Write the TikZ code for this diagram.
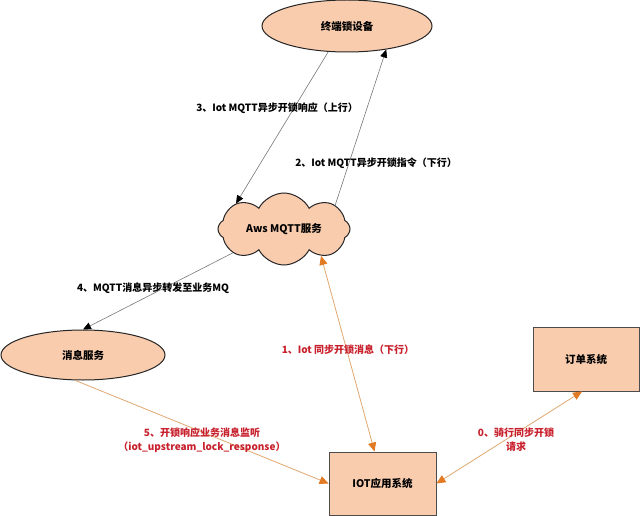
\documentclass[tikz,border=0pt]{standalone}
\usepackage{fontspec}
\setmainfont{Noto Sans CJK SC}
\usetikzlibrary{shapes.geometric,shapes.symbols,arrows.meta}
\definecolor{peach}{RGB}{249,204,174}
\definecolor{tipor}{RGB}{226,122,36}
\definecolor{lineor}{RGB}{224,168,112}
\definecolor{redtxt}{RGB}{200,32,44}
\definecolor{lgray}{RGB}{120,120,120}
\begin{document}
\begin{tikzpicture}[x=1pt,y=-1pt,
  nodefont/.style={font=\fontsize{10.5}{12}\selectfont\bfseries},
  ell/.style={ellipse, draw=black!85, line width=1pt, fill=peach, inner sep=0pt, nodefont},
  boxn/.style={rectangle, draw=black!70, line width=0.9pt, fill=peach, inner sep=0pt, nodefont},
  cloudn/.style={cloud, cloud puffs=8, cloud puff arc=125, cloud ignores aspect, draw=black!85, line width=1pt, fill=peach, inner sep=0pt, nodefont},
  blk/.style={draw=lgray, line width=0.6pt, -{Triangle[length=8pt,width=7pt,color=black]}},
  orng/.style={draw=lineor, line width=0.8pt, -{Triangle[length=9pt,width=8pt,color=tipor]}},
  orng2/.style={draw=lineor, line width=0.8pt, {Triangle[length=9pt,width=8pt,color=tipor]}-{Triangle[length=9pt,width=8pt,color=tipor]}},
  lab/.style={font=\fontsize{10}{14}\selectfont\bfseries, inner sep=1pt, align=center},
  redlab/.style={lab, text=redtxt}
]
\useasboundingbox (0,0) rectangle (640,516);
\fill[white] (0,0) rectangle (640,516);

\node[ell, minimum width=170pt, minimum height=52pt] (dev) at (347,26) {终端锁设备};
\node[cloudn, minimum width=132pt, minimum height=72pt] (aws) at (284,229) {Aws MQTT服务};
\node[ell, minimum width=164pt, minimum height=50pt] (msg) at (83,355) {消息服务};
\node[boxn, minimum width=106pt, minimum height=64pt] (order) at (586,359) {订单系统};
\node[boxn, minimum width=107pt, minimum height=63pt] (iot) at (382.5,483.5) {IOT应用系统};

\draw[blk] (dev.-126) -- (aws.152);
\draw[blk] (aws.25) -- (dev.-31);
\draw[blk] (aws.205) -- (msg.north);
\draw[orng2] (aws.-36) -- (iot.104.6);
\draw[orng] (msg.-107) -- (iot.west);
\draw[orng2] (iot.east) -- (order.-97);

\node[lab] (l3) at (277,108) {3、Iot MQTT异步开锁响应（上行）};
\node[lab] (l2) at (376,163) {2、Iot MQTT异步开锁指令（下行）};
\node[lab] (l4) at (153,288) {4、MQTT消息异步转发至业务MQ};
\node[redlab] (l1) at (348,350) {1、Iot 同步开锁消息（下行）};
\node[redlab] (l5) at (202,440) {5、开锁响应业务消息监听\\（iot\_upstream\_lock\_response）};
\node[redlab] (l0) at (516,440) {0、骑行同步开锁\\请求};
\end{tikzpicture}
\end{document}
